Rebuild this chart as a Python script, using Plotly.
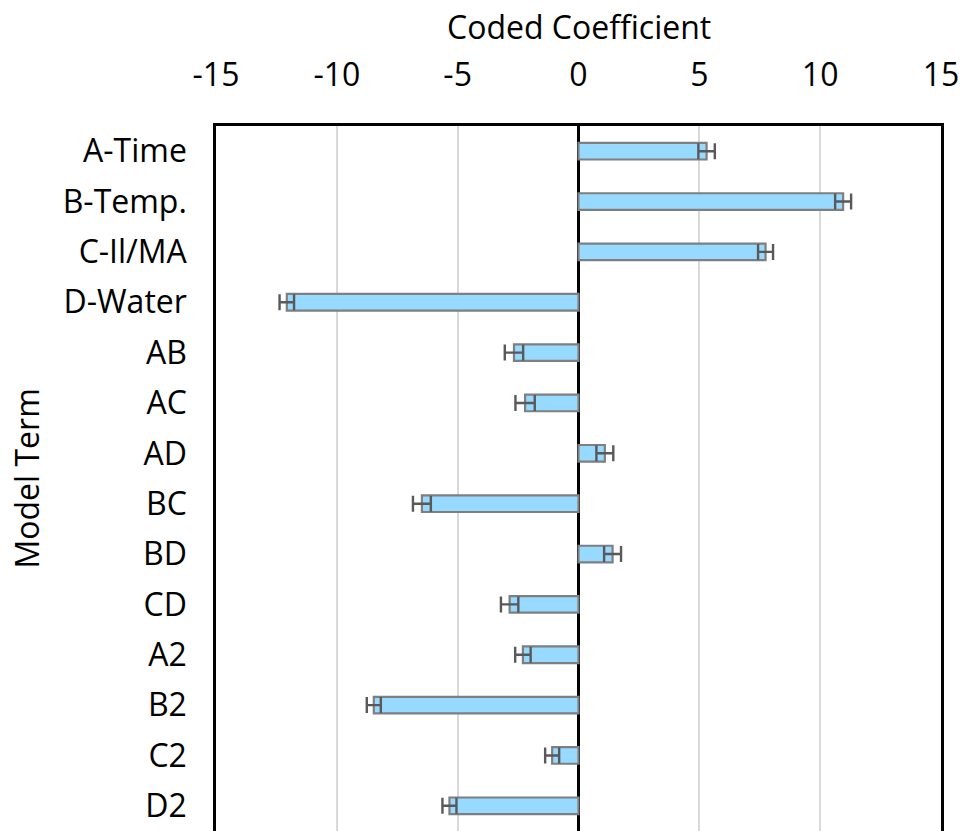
import plotly.graph_objects as go

terms = ["A-Time", "B-Temp.", "C-Il/MA", "D-Water", "AB", "AC", "AD", "BC",
         "BD", "CD", "A2", "B2", "C2", "D2"]
coefficients = [5.30, 10.95, 7.74, -12.07, -2.67, -2.21, 1.09, -6.48,
                1.41, -2.85, -2.30, -8.47, -1.09, -5.34]
std_errors = [0.34, 0.33, 0.31, 0.30, 0.38, 0.40, 0.35, 0.37,
              0.35, 0.36, 0.32, 0.29, 0.29, 0.29]
x_ticks = [-15, -10, -5, 0, 5, 10, 15]

FONT = "Open Sans"
FS = 32

fig = go.Figure()
fig.add_trace(go.Bar(
    y=terms,
    x=coefficients,
    orientation="h",
    marker=dict(color="#97D9FF", line=dict(color="#7F7F7F", width=2.2)),
    error_x=dict(type="data", array=std_errors, visible=True,
                 color="#595959", thickness=2.4, width=8),
    width=0.33,
))

fig.update_layout(
    width=967,
    height=831,
    margin=dict(l=216, r=26, t=126, b=0),
    plot_bgcolor="white",
    paper_bgcolor="white",
    showlegend=False,
    font=dict(family=FONT, size=FS, color="#000000"),
    xaxis=dict(
        side="top",
        range=[-15, 15],
        tickvals=x_ticks,
        ticktext=[str(v) for v in x_ticks],
        showgrid=True,
        gridcolor="#D9D9D9",
        gridwidth=1.5,
        zeroline=True,
        zerolinecolor="#000000",
        zerolinewidth=2.5,
        showline=True,
        linecolor="#000000",
        linewidth=2.5,
        mirror=False,
        ticks="",
        ticklabelstandoff=24,
        tickfont=dict(family=FONT, size=FS),
    ),
    yaxis=dict(
        categoryorder="array",
        categoryarray=terms,
        autorange="reversed",
        showgrid=False,
        zeroline=False,
        showline=True,
        linecolor="#000000",
        linewidth=2.5,
        mirror=True,
        ticks="",
        ticklabelstandoff=20,
        tickfont=dict(family=FONT, size=FS),
    ),
    annotations=[
        dict(text="Coded Coefficient", xref="x", yref="paper", x=0, y=1,
             yshift=100, showarrow=False, xanchor="center", yanchor="middle",
             font=dict(family=FONT, size=FS)),
        dict(text="Model Term", xref="paper", yref="paper", x=0, y=0.5,
             xshift=-190, showarrow=False, textangle=-90, xanchor="center",
             yanchor="middle", font=dict(family=FONT, size=FS)),
    ],
)

fig.write_html("out.html")
